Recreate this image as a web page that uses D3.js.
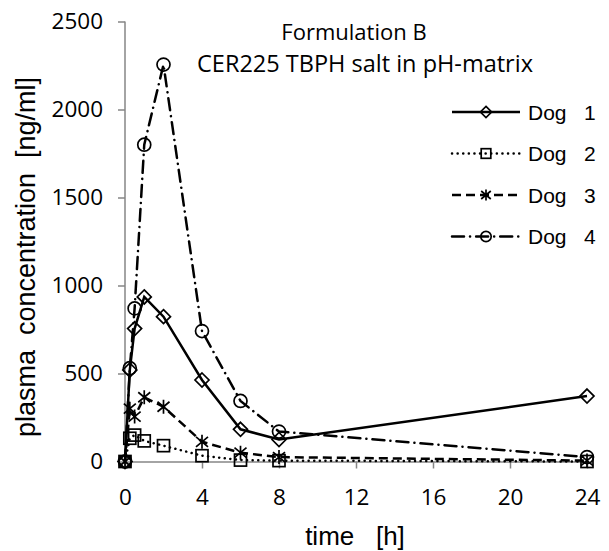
<!DOCTYPE html>
<html>
<head>
<meta charset="utf-8">
<script type="text/javascript" src="https://cdn.jsdelivr.net/npm/d3@7"></script>
<title>Formulation B</title>
<style>
  body { margin:0; background:#fff; }
  text { white-space: pre; }
</style>
</head>
<body>
<div id="chart"></div>
<script type="text/javascript">
// sampling times [h]
var times = [0, 0.25, 0.5, 1, 2, 4, 6, 8, 24];
// plasma concentration [ng/ml], one array per dog
var dog1 = [0, 520, 755, 935, 823, 463, 183, 125, 372];
var dog2 = [0, 132, 150, 117, 90, 33, 8, 5, 0];
var dog3 = [0, 300, 255, 365, 311, 112, 50, 25, 5];
var dog4 = [0, 530, 870, 1800, 2255, 741, 344, 170, 25];
var dogNames = ["Dog   1", "Dog   2", "Dog   3", "Dog   4"];
var xTicks = [0, 4, 8, 12, 16, 20, 24];
var yTicks = [0, 500, 1000, 1500, 2000, 2500];

(function(){
  var w = 609, h = 551;
  var left = 125, right = 587, top = 21.5, bottom = 461.5;

  var svg = d3.select("#chart").append("svg")
      .attr("width", w).attr("height", h);

  var x = d3.scaleLinear().domain([0, 24]).range([left, right]);
  var y = d3.scaleLinear().domain([0, 2500]).range([bottom, top]);

  var axisColor = "#868686";
  var tickFont = "'Open Sans', sans-serif";
  var arial = "'Liberation Sans', Arial, sans-serif";

  var xa = svg.append("g").attr("transform", "translate(0," + bottom + ")")
      .call(d3.axisBottom(x).tickValues(xTicks).tickSize(7).tickSizeOuter(0));
  var ya = svg.append("g").attr("transform", "translate(" + left + ",0)")
      .call(d3.axisLeft(y).tickValues(yTicks).tickFormat(d3.format("d"))
        .tickSize(7).tickPadding(15).tickSizeOuter(0));

  [xa, ya].forEach(function(g) {
    g.selectAll("path, line").attr("stroke", axisColor).attr("stroke-width", 1.5);
    g.selectAll("text").attr("fill", "#000")
      .style("font-family", tickFont).style("font-size", "22.5px");
  });
  xa.selectAll("text").attr("y", 43).attr("dy", null);
  ya.select(".domain").attr("d", "M0," + bottom + "V" + top);

  var series = [
    { vals: dog1, dash: null,          mark: "diamond" },
    { vals: dog2, dash: "0.1 5.5",     mark: "square" },
    { vals: dog3, dash: "9 5",         mark: "star" },
    { vals: dog4, dash: "12 6 0.1 6",  mark: "circle" }
  ];

  var line = d3.line()
      .x(function(d) { return x(d[0]); })
      .y(function(d) { return y(d[1]); });

  function drawMarker(g, type, cx, cy, k) {
    var m = g.append("g").attr("transform", "translate(" + cx + "," + cy + ") scale(" + k + ")")
        .attr("fill", "none").attr("stroke", "#000").attr("stroke-width", 1.7 / k);
    if (type == "diamond") {
      m.append("path").attr("d", "M0,-7L7,0L0,7L-7,0Z");
    } else if (type == "square") {
      m.append("rect").attr("x", -6).attr("y", -6).attr("width", 12).attr("height", 12);
    } else if (type == "circle") {
      m.append("circle").attr("r", 6.5);
    } else {
      m.append("path").attr("d", "M0,-7V7M-6,-5L6,5M-6,5L6,-5");
    }
  }

  function styleLine(p, s) {
    p.attr("fill", "none").attr("stroke", "#000").attr("stroke-width", 2.5);
    if (s.dash) p.attr("stroke-dasharray", s.dash)
        .attr("stroke-linecap", s.dash.indexOf("0.1") >= 0 ? "round" : "butt");
  }

  series.forEach(function(s) {
    var pts = times.map(function(t, i) { return [t, s.vals[i]]; });
    styleLine(svg.append("path").datum(pts).attr("d", line), s);
    var mg = svg.append("g");
    pts.forEach(function(d) { drawMarker(mg, s.mark, x(d[0]), y(d[1]), 1); });
  });

  // legend
  var legY = [112, 153.5, 195, 236.5];
  series.forEach(function(s, i) {
    var ly = legY[i];
    styleLine(svg.append("line").attr("x1", 452).attr("x2", 520).attr("y1", ly).attr("y2", ly), s);
    drawMarker(svg, s.mark, 486, ly, 0.8);
    svg.append("text").attr("x", 528).attr("y", ly + 7.5)
        .style("font-family", arial).style("font-size", "21px")
        .text(dogNames[i]);
  });

  // titles
  svg.append("text").attr("x", 354).attr("y", 40).attr("text-anchor", "middle")
      .style("font-family", tickFont).style("font-size", "22px")
      .text("Formulation B");
  svg.append("text").attr("x", 365).attr("y", 72).attr("text-anchor", "middle")
      .style("font-family", tickFont).style("font-size", "23.5px")
      .text("CER225 TBPH salt in pH-matrix");

  svg.append("text").attr("x", 355).attr("y", 545).attr("text-anchor", "middle")
      .style("font-family", arial).style("font-size", "26px")
      .text("time   [h]");
  svg.append("text").attr("transform", "translate(35,257) rotate(-90)").attr("text-anchor", "middle")
      .style("font-family", arial).style("font-size", "27px")
      .text("plasma  concentration  [ng/ml]");
})();
</script>
</body>
</html>
